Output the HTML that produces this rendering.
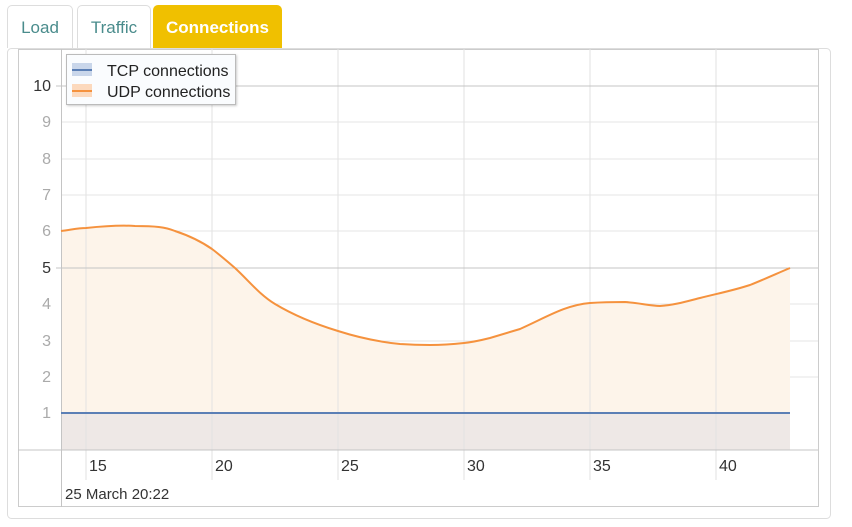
<!DOCTYPE html>
<html><head><style>
body{margin:0;background:#fff;font-family:"Liberation Sans",sans-serif;}
.tab{position:absolute;top:5px;height:43px;border:1px solid #ddd;border-bottom:none;border-radius:5px 5px 0 0;box-sizing:border-box;font-size:17px;line-height:43px;text-align:center;color:#4a8c8c;}
</style></head><body>
<div class="tab" style="left:7px;width:66px;">Load</div>
<div class="tab" style="left:77px;width:74px;">Traffic</div>
<div class="tab" style="left:153px;width:129px;background:#f0c000;border-color:#f0c000;color:#fff;font-weight:bold;">Connections</div>
<svg width="852" height="527" style="position:absolute;left:0;top:0" font-family="Liberation Sans, sans-serif">
<rect x="7.5" y="48.5" width="823" height="470" rx="4" fill="none" stroke="#ddd"/>
<rect x="18.5" y="49.5" width="800" height="457" fill="none" stroke="#ccc"/>
<g stroke="#e4e4e4">
<line x1="61" y1="377" x2="818" y2="377"/><line x1="61" y1="341" x2="818" y2="341"/><line x1="61" y1="304" x2="818" y2="304"/>
<line x1="61" y1="231" x2="818" y2="231"/><line x1="61" y1="195" x2="818" y2="195"/><line x1="61" y1="159" x2="818" y2="159"/><line x1="61" y1="122" x2="818" y2="122"/>
</g>
<path d="M61,413 H790 V450 H61 Z" fill="#eee8e6"/>
<path id="a" d="M61,231 C70,230 78,228 86,228 C105,226 120,225 135,226 C155,226 165,227 175,231 C190,236 202,242 212,249 C220,255 228,262 235,268 C250,282 260,295 275,304 C295,316 315,324 338,331 C360,338 380,342 400,344 C415,345 422,345 430,345 C445,345 455,344 464,343 C474,342 482,340 490,338 C500,335 510,332 520,329 C545,318 565,305 590,303 C605,302 615,302 625,302 C640,303 650,306 660,306 C675,305 688,301 700,298 C720,293 735,290 750,285 C765,279 778,273 790,268 L790,413 L61,413 Z" fill="#fdf4ea"/>
<g stroke="#e2e2e2">
<line x1="86" y1="49" x2="86" y2="480"/><line x1="212" y1="49" x2="212" y2="480"/><line x1="338" y1="49" x2="338" y2="480"/>
<line x1="464" y1="49" x2="464" y2="480"/><line x1="590" y1="49" x2="590" y2="480"/><line x1="716" y1="49" x2="716" y2="480"/>
</g>
<line x1="56" y1="268" x2="818" y2="268" stroke="#c4c4c4"/>
<line x1="56" y1="86" x2="818" y2="86" stroke="#c4c4c4"/>
<line x1="18" y1="450" x2="818" y2="450" stroke="#c4c4c4"/>
<line x1="61.5" y1="49" x2="61.5" y2="507" stroke="#c4c4c4"/>
<path d="M61,231 C70,230 78,228 86,228 C105,226 120,225 135,226 C155,226 165,227 175,231 C190,236 202,242 212,249 C220,255 228,262 235,268 C250,282 260,295 275,304 C295,316 315,324 338,331 C360,338 380,342 400,344 C415,345 422,345 430,345 C445,345 455,344 464,343 C474,342 482,340 490,338 C500,335 510,332 520,329 C545,318 565,305 590,303 C605,302 615,302 625,302 C640,303 650,306 660,306 C675,305 688,301 700,298 C720,293 735,290 750,285 C765,279 778,273 790,268" fill="none" stroke="#f5923e" stroke-width="2"/>
<line x1="61" y1="413" x2="790" y2="413" stroke="#5b7fb5" stroke-width="2"/>
<g font-size="16" text-anchor="end" fill="#aaa">
<text x="51" y="418">1</text><text x="51" y="382">2</text><text x="51" y="346">3</text><text x="51" y="309">4</text>
<text x="51" y="273" fill="#333">5</text><text x="51" y="236">6</text><text x="51" y="200">7</text><text x="51" y="164">8</text><text x="51" y="127">9</text>
<text x="51" y="91" fill="#333">10</text>
</g>
<g font-size="16" fill="#333">
<text x="89" y="471">15</text><text x="215" y="471">20</text><text x="341" y="471">25</text><text x="467" y="471">30</text><text x="593" y="471">35</text><text x="719" y="471">40</text>
<text x="65" y="499" font-size="15">25 March 20:22</text>
</g>
<rect x="66.5" y="54.5" width="169" height="50" fill="#fafcfe" stroke="#bbb" style="filter:drop-shadow(1px 1px 1px rgba(0,0,0,0.2))"/>
<rect x="72" y="63" width="20" height="13" fill="#c9d6ea"/><line x1="72" y1="70" x2="92" y2="70" stroke="#5b7fb5" stroke-width="2"/>
<rect x="72" y="84" width="20" height="13" fill="#fcd9bd"/><line x1="72" y1="91" x2="92" y2="91" stroke="#f5923e" stroke-width="2"/>
<text x="107" y="76" font-size="16" fill="#222">TCP connections</text>
<text x="107" y="97" font-size="16" fill="#222">UDP connections</text>
</svg>
</body></html>
